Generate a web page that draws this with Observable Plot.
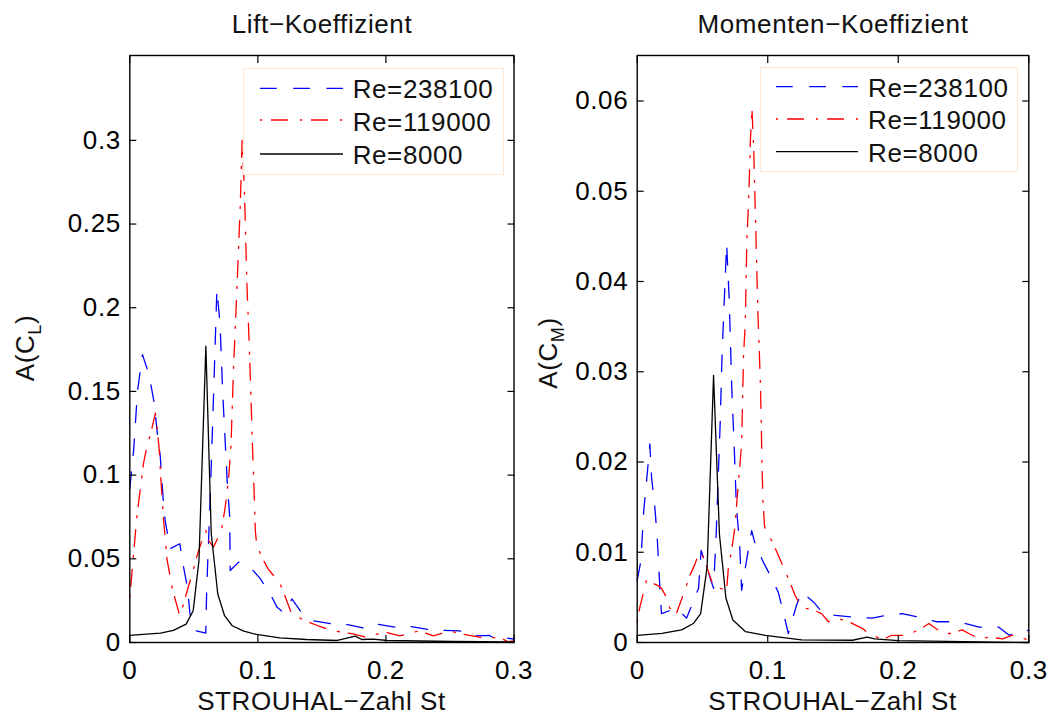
<!DOCTYPE html>
<html><head><meta charset="utf-8">
<script src="https://cdn.jsdelivr.net/npm/d3@7"></script>
<script src="https://cdn.jsdelivr.net/npm/@observablehq/plot@0.6"></script>
<style>
body{margin:0;background:#fff;}
#wrap{position:relative;width:1052px;height:717px;font-family:"Liberation Sans",Arial,Helvetica,sans-serif;color:#111;overflow:hidden;}
.abs{position:absolute;white-space:nowrap;font-size:26px;line-height:26px;letter-spacing:0.6px;}
.ctr{transform:translateX(-50%);}
.ylab{transform:translate(-50%,-50%) rotate(-90deg);}
.ylab sub{font-size:18px;vertical-align:-7px;line-height:0;}
.legend{position:absolute;background:#fff;border:1px solid #fde6d2;box-sizing:border-box;}
</style></head>
<body>
<div id="wrap"></div>
<script>
// ---------- data ----------
const xTicks = [0, 0.1, 0.2, 0.3];
const yTicksLift = [0, 0.05, 0.1, 0.15, 0.2, 0.25, 0.3];
const yTicksMoment = [0, 0.01, 0.02, 0.03, 0.04, 0.05, 0.06];
const seriesNames = ["Re=238100", "Re=119000", "Re=8000"];

// Lift coefficient, Re=238100
const liftSt238 = [0, 0.003, 0.006, 0.0099, 0.015, 0.019, 0.0215, 0.0237, 0.0263, 0.0276, 0.0315, 0.039, 0.042, 0.0445, 0.046, 0.047, 0.051, 0.0593, 0.060, 0.0607, 0.0627, 0.0655, 0.068, 0.0705, 0.0725, 0.0745, 0.076, 0.078, 0.0784, 0.085, 0.094, 0.102, 0.111, 0.115, 0.12, 0.1266, 0.133, 0.1434, 0.159, 0.17, 0.185, 0.193, 0.208, 0.216, 0.234, 0.245, 0.2576, 0.265, 0.281, 0.286, 0.291, 0.3];
const liftA238 = [0.092, 0.115, 0.15, 0.172, 0.160, 0.1435, 0.125, 0.112, 0.083, 0.073, 0.056, 0.059, 0.045, 0.035, 0.025, 0.017, 0.0072, 0.0056, 0.030, 0.045, 0.085, 0.15, 0.211, 0.19, 0.15, 0.12, 0.097, 0.075, 0.043, 0.048, 0.045, 0.038, 0.027, 0.021, 0.018, 0.026, 0.019, 0.013, 0.011, 0.0107, 0.0082, 0.011, 0.009, 0.010, 0.0076, 0.0072, 0.007, 0.0038, 0.0042, 0.0018, 0.003, 0.002];
// Lift coefficient, Re=119000
const liftSt119 = [0, 0.0055, 0.0107, 0.0133, 0.016, 0.020, 0.0228, 0.0245, 0.0263, 0.029, 0.033, 0.0354, 0.039, 0.042, 0.0445, 0.049, 0.053, 0.0568, 0.0594, 0.0614, 0.0653, 0.0685, 0.0718, 0.0745, 0.077, 0.079, 0.081, 0.0838, 0.0862, 0.0877, 0.0895, 0.0915, 0.0936, 0.0958, 0.097, 0.098, 0.099, 0.103, 0.108, 0.1174, 0.12, 0.1265, 0.137, 0.147, 0.159, 0.175, 0.185, 0.193, 0.2005, 0.211, 0.226, 0.237, 0.25, 0.265, 0.276, 0.289, 0.295, 0.3];
const liftA119 = [0.027, 0.075, 0.107, 0.117, 0.124, 0.137, 0.117, 0.095, 0.074, 0.050, 0.033, 0.026, 0.016, 0.023, 0.030, 0.042, 0.053, 0.062, 0.067, 0.061, 0.057, 0.062, 0.068, 0.081, 0.097, 0.117, 0.164, 0.214, 0.26, 0.30, 0.27, 0.213, 0.171, 0.117, 0.092, 0.067, 0.059, 0.051, 0.044, 0.035, 0.030, 0.017, 0.013, 0.010, 0.007, 0.005, 0.003, 0.005, 0.006, 0.004, 0.007, 0.004, 0.0068, 0.0042, 0.0028, 0.003, 0.0005, 0.001];
// Lift coefficient, Re=8000
const liftSt8 = [0, 0.005, 0.024, 0.034, 0.044, 0.0495, 0.054, 0.0594, 0.0636, 0.0687, 0.074, 0.080, 0.089, 0.099, 0.117, 0.138, 0.162, 0.172, 0.176, 0.181, 0.190, 0.201, 0.252, 0.3];
const liftA8 = [0.0042, 0.0046, 0.0056, 0.0072, 0.011, 0.019, 0.049, 0.177, 0.065, 0.029, 0.016, 0.010, 0.0068, 0.0048, 0.0028, 0.0018, 0.0012, 0.003, 0.0038, 0.0018, 0.002, 0.0012, 0.0006, 0.0004];

// Moment coefficient, Re=238100
const momSt238 = [0, 0.0028, 0.005, 0.0077, 0.0097, 0.011, 0.0135, 0.0153, 0.0169, 0.0186, 0.030, 0.0378, 0.047, 0.049, 0.0585, 0.0605, 0.0635, 0.065, 0.0685, 0.0705, 0.0725, 0.0745, 0.076, 0.0785, 0.080, 0.084, 0.0877, 0.090, 0.0966, 0.1017, 0.108, 0.111, 0.1158, 0.122, 0.126, 0.135, 0.1426, 0.152, 0.167, 0.18, 0.19, 0.203, 0.216, 0.229, 0.239, 0.2517, 0.262, 0.277, 0.285, 0.2976, 0.3];
const momA238 = [0.0069, 0.009, 0.0146, 0.0187, 0.022, 0.0183, 0.015, 0.0117, 0.0073, 0.0032, 0.0038, 0.0027, 0.006, 0.0102, 0.006, 0.012, 0.024, 0.0318, 0.0442, 0.038, 0.028, 0.021, 0.015, 0.0108, 0.0058, 0.0093, 0.0124, 0.0111, 0.0089, 0.0075, 0.0056, 0.0039, 0.001, 0.0041, 0.0056, 0.0045, 0.0032, 0.003, 0.0028, 0.0027, 0.003, 0.0032, 0.0028, 0.0023, 0.0023, 0.0021, 0.0017, 0.0017, 0.0008, 0.0014, 0.0013];
// Moment coefficient, Re=119000
const momSt119 = [0, 0.002, 0.0071, 0.016, 0.0186, 0.0225, 0.025, 0.030, 0.0365, 0.040, 0.044, 0.0475, 0.0506, 0.0537, 0.0585, 0.0633, 0.0685, 0.0698, 0.0723, 0.0749, 0.076, 0.080, 0.0815, 0.0828, 0.084, 0.0854, 0.0867, 0.0879, 0.0892, 0.090, 0.091, 0.0917, 0.0925, 0.0936, 0.0943, 0.095, 0.0956, 0.0963, 0.0976, 0.104, 0.108, 0.113, 0.117, 0.121, 0.126, 0.135, 0.1413, 0.1464, 0.153, 0.162, 0.172, 0.1775, 0.188, 0.195, 0.2057, 0.216, 0.2235, 0.234, 0.241, 0.249, 0.254, 0.262, 0.27, 0.28, 0.287, 0.294, 0.3];
const momA119 = [0.0023, 0.0039, 0.0069, 0.0063, 0.006, 0.005, 0.0038, 0.0032, 0.0058, 0.0073, 0.0086, 0.010, 0.0095, 0.0082, 0.0062, 0.006, 0.0058, 0.0082, 0.0102, 0.0128, 0.015, 0.022, 0.032, 0.0353, 0.0446, 0.049, 0.0556, 0.0591, 0.0549, 0.0505, 0.0449, 0.0409, 0.0364, 0.032, 0.029, 0.0246, 0.0198, 0.0158, 0.0128, 0.011, 0.0097, 0.008, 0.0067, 0.0052, 0.0039, 0.0036, 0.0032, 0.0023, 0.0027, 0.0023, 0.0016, 0.001, 0.0003, 0.0008, 0.0008, 0.0014, 0.0021, 0.001, 0.001, 0.0014, 0.001, 0.0004, 0.0006, 0.0004, 0.0008, 0.0006, 0.0002];
// Moment coefficient, Re=8000
const momSt8 = [0, 0.019, 0.034, 0.043, 0.0486, 0.0536, 0.0585, 0.063, 0.068, 0.0733, 0.083, 0.098, 0.126, 0.165, 0.176, 0.182, 0.20, 0.25, 0.3];
const momA8 = [0.0008, 0.001, 0.0014, 0.0021, 0.0032, 0.0084, 0.0296, 0.012, 0.0049, 0.0025, 0.0012, 0.0008, 0.0003, 0.00025, 0.0006, 0.0004, 0.0002, 0.0001, 0.0];

// ---------- styles ----------
const seriesStyles = [
  {color: "#0000ff", dash: "16.7,16.5"},
  {color: "#ff0000", dash: "2,9,17,12"},
  {color: "#000000", dash: null}
];
const FONT = '"Liberation Sans", Arial, Helvetica, sans-serif';

function panel(series, yMax, yTicks, marginLeft, marginRight) {
  const lines = series.map((s, k) => Plot.line(s.st, {
    x: s.st, y: s.a, stroke: seriesStyles[k].color, strokeWidth: 1.3,
    strokeDasharray: seriesStyles[k].dash || undefined, strokeLinejoin: "round"
  }));
  return Plot.plot({
    width: 526, height: 717,
    marginTop: 55, marginBottom: 75, marginLeft, marginRight,
    x: {domain: [0, 0.3]},
    y: {domain: [0, yMax]},
    style: {fontFamily: FONT, fontSize: "26px", color: "#000", background: "transparent", overflow: "visible", letterSpacing: "0.6px"},
    marks: [
      ...lines,
      Plot.frame({stroke: "#000", strokeWidth: 1.4}),
      Plot.axisX({ticks: xTicks, anchor: "bottom", tickSize: 0, tickPadding: 18, tickFormat: d => String(d), label: null, fontSize: 26}),
      Plot.axisX({ticks: xTicks, anchor: "bottom", tickSize: -7, tickFormat: () => "", label: null, strokeWidth: 1.2}),
      Plot.axisX({ticks: xTicks, anchor: "top", tickSize: -7, tickFormat: () => "", label: null, strokeWidth: 1.2}),
      Plot.axisY({ticks: yTicks, anchor: "left", tickSize: 0, tickPadding: 9, tickFormat: d => String(d), label: null, fontSize: 26}),
      Plot.axisY({ticks: yTicks, anchor: "left", tickSize: -7, tickFormat: () => "", label: null, strokeWidth: 1.2}),
      Plot.axisY({ticks: yTicks, anchor: "right", tickSize: -7, tickFormat: () => "", label: null, strokeWidth: 1.2})
    ]
  });
}

const wrap = document.getElementById("wrap");

const left = panel([
  {st: liftSt238, a: liftA238},
  {st: liftSt119, a: liftA119},
  {st: liftSt8, a: liftA8}
], 0.3507, yTicksLift, 129.3, 12.5);
left.style.position = "absolute"; left.style.left = "0px"; left.style.top = "0px";
wrap.appendChild(left);

const right = panel([
  {st: momSt238, a: momA238},
  {st: momSt119, a: momA119},
  {st: momSt8, a: momA8}
], 0.06504, yTicksMoment, 110.7, 23.7);
right.style.position = "absolute"; right.style.left = "526px"; right.style.top = "0px";
wrap.appendChild(right);

function addText(html, x, y, cls) {
  const d = document.createElement("div");
  d.className = "abs " + cls;
  d.style.left = x + "px"; d.style.top = y + "px";
  d.innerHTML = html;
  wrap.appendChild(d);
}
// titles
addText("Lift\u2212Koeffizient", 322, 11.3, "ctr");
addText("Momenten\u2212Koeffizient", 833, 11.3, "ctr");
// x labels
addText("STROUHAL\u2212Zahl St", 321.5, 688, "ctr");
addText("STROUHAL\u2212Zahl St", 832.5, 688, "ctr");
// y labels
addText("A(C<sub>L</sub>)", 25, 348, "ylab");
addText("A(C<sub>M</sub>)", 548, 353, "ylab");

function addLegend(box, lx0, lx1, ys, tx, tops) {
  const lg = document.createElement("div");
  lg.className = "legend";
  lg.style.left = box[0] + "px"; lg.style.top = box[1] + "px";
  lg.style.width = box[2] + "px"; lg.style.height = box[3] + "px";
  wrap.appendChild(lg);
  const ns = "http://www.w3.org/2000/svg";
  const svg = document.createElementNS(ns, "svg");
  svg.setAttribute("width", 1052); svg.setAttribute("height", 717);
  svg.style.position = "absolute"; svg.style.left = "0"; svg.style.top = "0"; svg.style.pointerEvents = "none";
  seriesNames.forEach((name, k) => {
    const ln = document.createElementNS(ns, "line");
    ln.setAttribute("x1", lx0); ln.setAttribute("x2", lx1);
    ln.setAttribute("y1", ys[k]); ln.setAttribute("y2", ys[k]);
    ln.setAttribute("stroke", seriesStyles[k].color);
    ln.setAttribute("stroke-width", 1.3);
    if (seriesStyles[k].dash) ln.setAttribute("stroke-dasharray", seriesStyles[k].dash);
    svg.appendChild(ln);
  });
  wrap.appendChild(svg);
  seriesNames.forEach((name, k) => addText(name, tx, tops[k], ""));
}
addLegend([243, 68, 261, 107], 260, 343, [88.3, 120, 154], 352.7, [76.3, 108.7, 142]);
addLegend([759.5, 67, 258, 105], 776, 858, [86.7, 119, 151.7], 868, [74.7, 107, 140]);
</script>
</body></html>
